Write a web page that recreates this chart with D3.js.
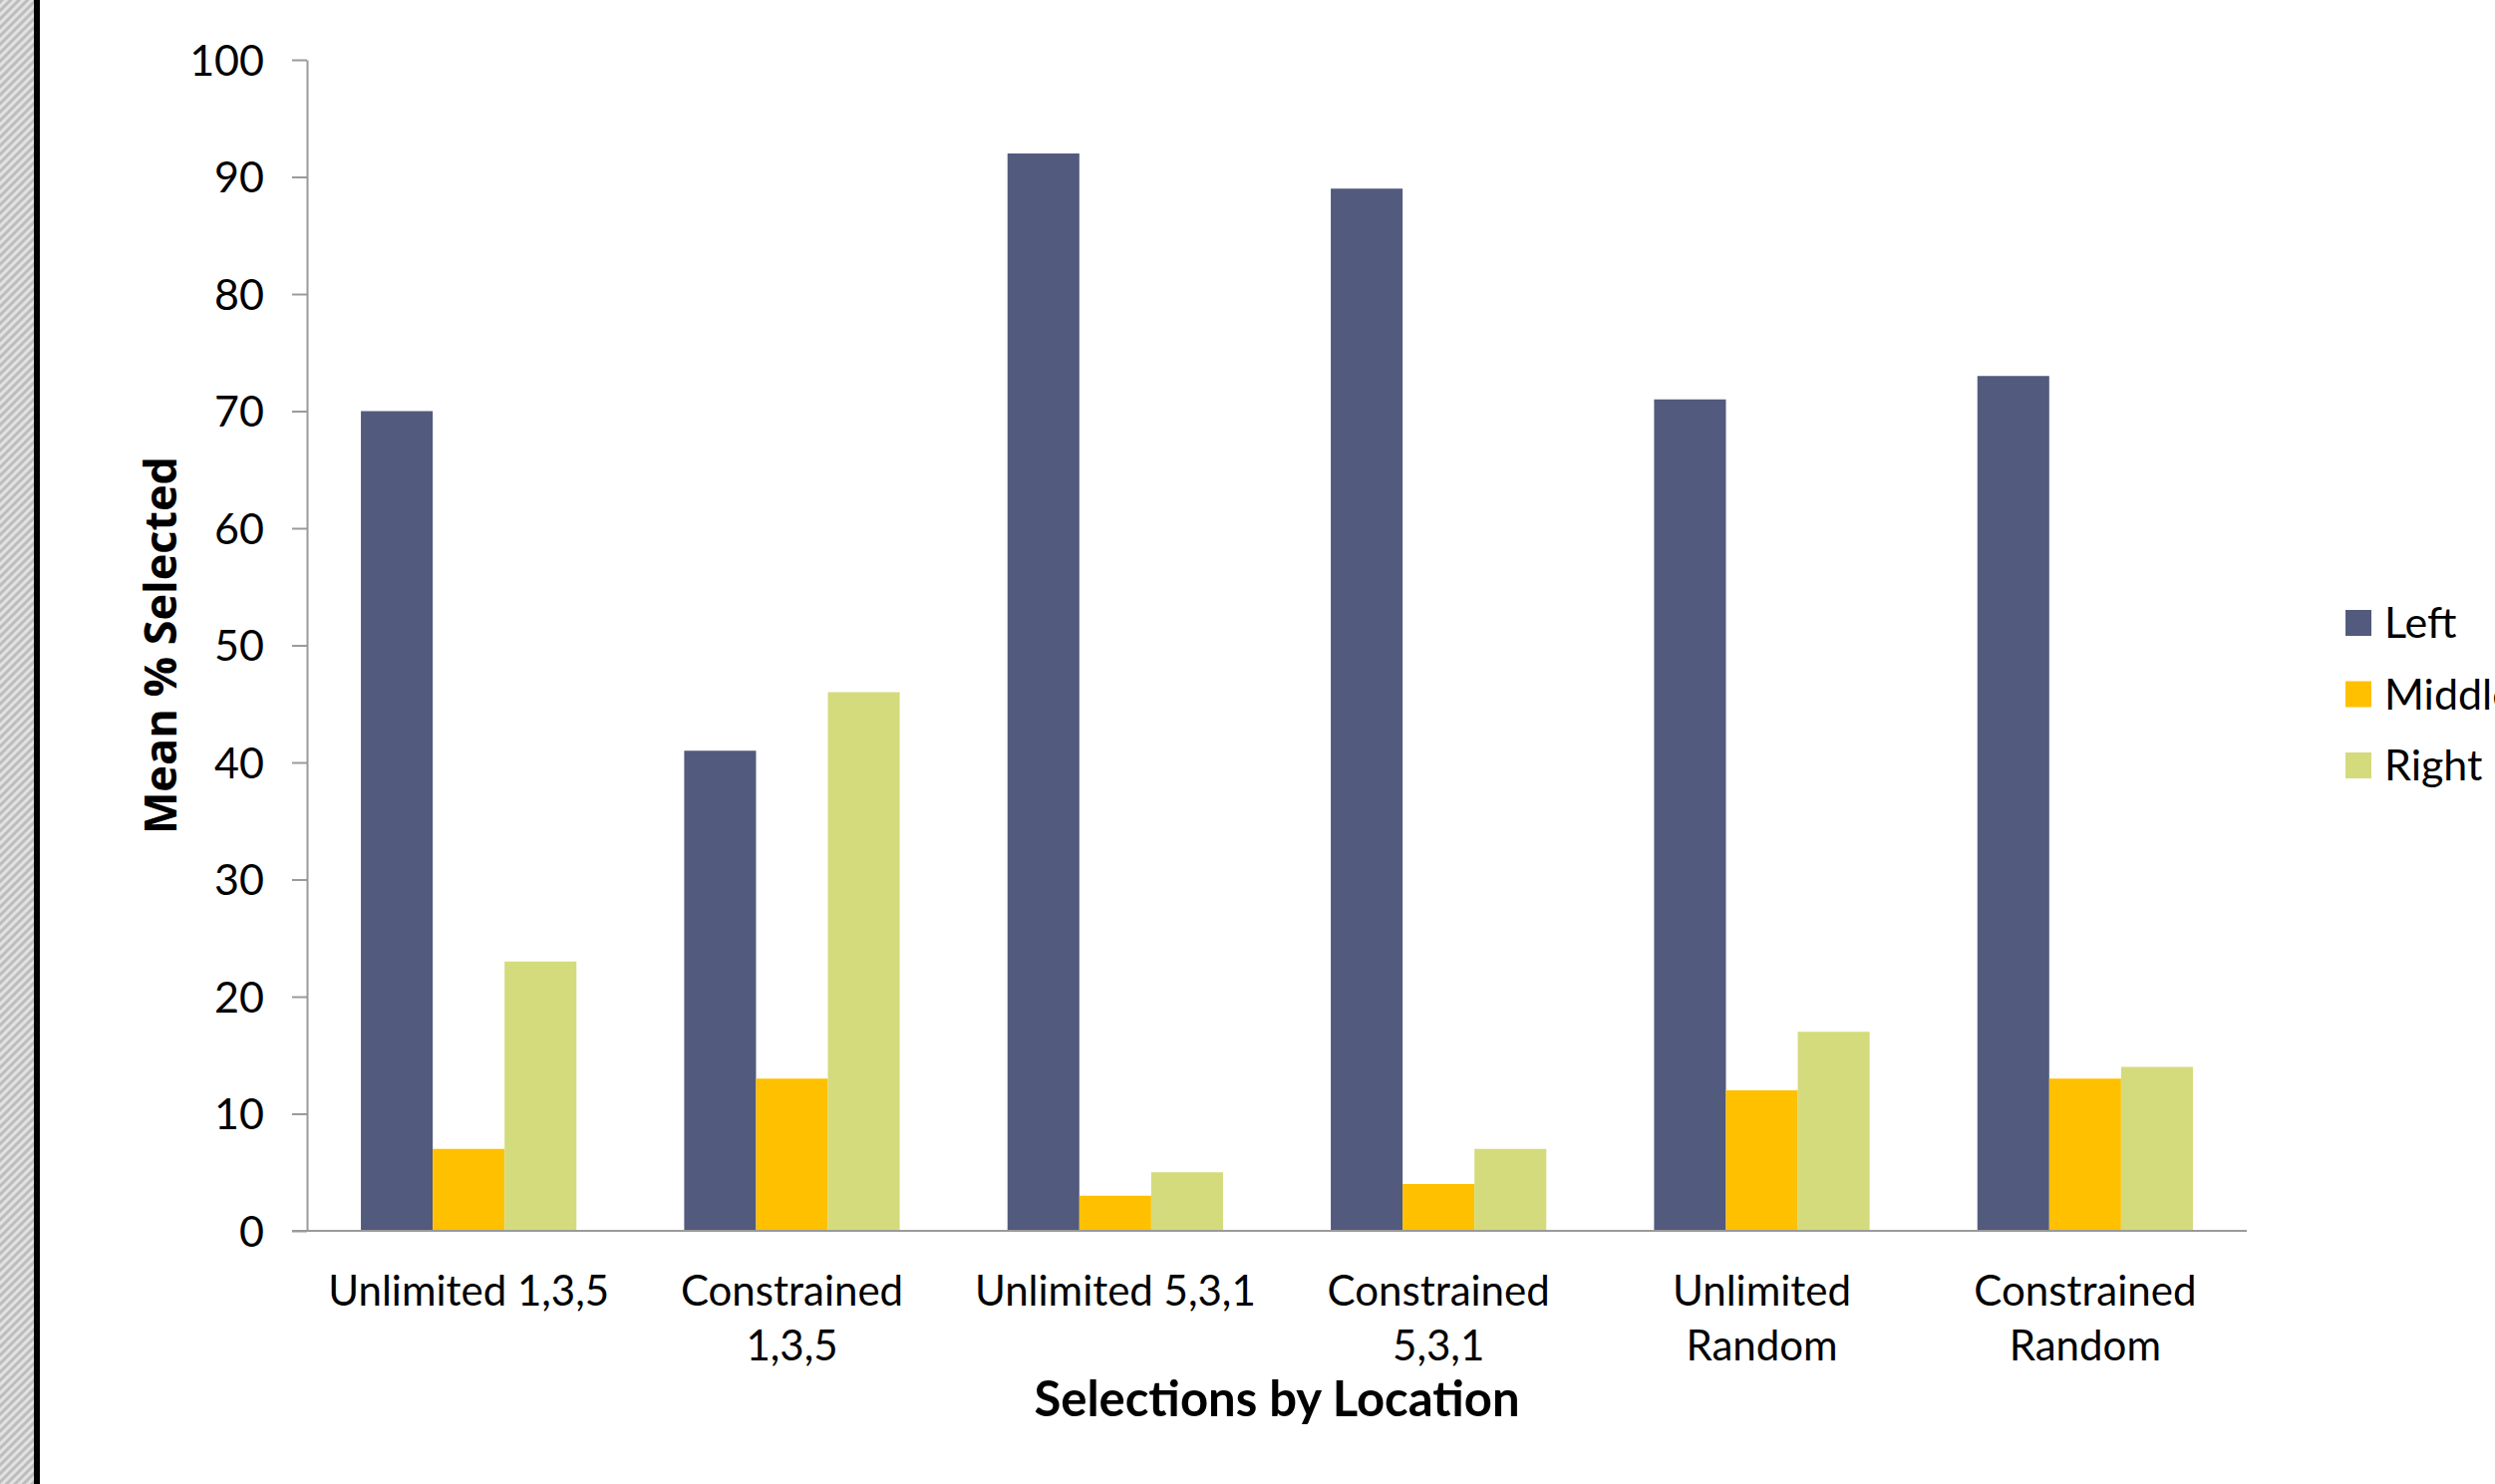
<!DOCTYPE html>
<html>
<head>
<meta charset="utf-8">
<script src="https://cdn.jsdelivr.net/npm/d3@7"></script>
<style>
  html, body { margin: 0; padding: 0; background: #fff; overflow: hidden; }
  svg { display: block; }
</style>
</head>
<body>
<svg id="chart" width="2503" height="1489"></svg>
<script>
// Mean percentage of selections at each location, per condition
const categories = [
  "Unlimited 1,3,5",
  "Constrained 1,3,5",
  "Unlimited 5,3,1",
  "Constrained 5,3,1",
  "Unlimited Random",
  "Constrained Random"
];
// How each category label wraps under the axis
const categoryLines = [
  ["Unlimited 1,3,5"],
  ["Constrained", "1,3,5"],
  ["Unlimited 5,3,1"],
  ["Constrained", "5,3,1"],
  ["Unlimited", "Random"],
  ["Constrained", "Random"]
];
const seriesNames = ["Left", "Middle", "Right"];
const leftValues   = [70, 41, 92, 89, 71, 73];
const middleValues = [7, 13, 3, 4, 12, 13];
const rightValues  = [23, 46, 5, 7, 17, 14];
const yTicks = [0, 10, 20, 30, 40, 50, 60, 70, 80, 90, 100];
const seriesColors = ["#525B7E", "#FFC000", "#D4DB7C"];

const seriesValues = [leftValues, middleValues, rightValues];
const rows = categories.map((c, i) => ({
  category: c,
  values: seriesNames.map((s, j) => ({ series: s, value: seriesValues[j][i] }))
}));

const W = 2503, H = 1489;
const margin = { top: 60, right: 249, bottom: 254, left: 308 };
const svg = d3.select("#chart");

// Slide frame on the left: hatched strip and a black rule
const defs = svg.append("defs");
const pat = defs.append("pattern")
  .attr("id", "hatch")
  .attr("patternUnits", "userSpaceOnUse")
  .attr("width", 6).attr("height", 6)
  .attr("patternTransform", "rotate(45)");
pat.append("rect").attr("width", 6).attr("height", 6).attr("fill", "#e2e2e2");
pat.append("rect").attr("width", 3).attr("height", 6).attr("fill", "#bdbdbd");
svg.append("rect").attr("x", 0).attr("y", 0).attr("width", 34).attr("height", H).attr("fill", "url(#hatch)");
svg.append("rect").attr("x", 34).attr("y", 0).attr("width", 6).attr("height", H).attr("fill", "#000");

const x0 = d3.scaleBand()
  .domain(categories)
  .range([margin.left, W - margin.right])
  .paddingInner(1 / 3)
  .paddingOuter(1 / 6);
const x1 = d3.scaleBand()
  .domain(seriesNames)
  .range([0, x0.bandwidth()]);
const y = d3.scaleLinear()
  .domain([0, 100])
  .range([H - margin.bottom, margin.top]);
const color = d3.scaleOrdinal().domain(seriesNames).range(seriesColors);

// Bars
const groups = svg.append("g")
  .selectAll("g")
  .data(rows)
  .join("g")
  .attr("transform", d => `translate(${x0(d.category)},0)`);
groups.selectAll("rect")
  .data(d => d.values)
  .join("rect")
  .attr("x", d => x1(d.series))
  .attr("width", x1.bandwidth())
  .attr("y", d => y(d.value))
  .attr("height", d => y(0) - y(d.value))
  .attr("fill", d => color(d.series));

const axisColor = "#9a9a9a";
const tickFont = "Lato, 'Open Sans', sans-serif";

// Y axis
const yAxis = svg.append("g")
  .attr("transform", `translate(${margin.left},0)`)
  .call(d3.axisLeft(y).tickValues(yTicks).tickSize(15).tickPadding(28).tickSizeOuter(0));
yAxis.select(".domain").attr("stroke", axisColor).attr("stroke-width", 2);
yAxis.selectAll(".tick line").attr("stroke", axisColor).attr("stroke-width", 2);
yAxis.selectAll(".tick text")
  .attr("fill", "#000")
  .attr("font-family", tickFont)
  .attr("font-size", 43)
  .attr("dy", "0.36em");

// X axis
const xAxis = svg.append("g")
  .attr("transform", `translate(0,${y(0)})`)
  .call(d3.axisBottom(x0).tickSize(0).tickSizeOuter(0));
xAxis.select(".domain")
  .attr("stroke", axisColor)
  .attr("stroke-width", 2)
  .attr("d", `M${margin.left - 15},0H${W - margin.right}`);
xAxis.selectAll(".tick text").each(function (d, i) {
  const t = d3.select(this)
    .text(null)
    .attr("y", 0)
    .attr("dy", null)
    .attr("fill", "#000")
    .attr("font-family", tickFont)
    .attr("font-size", 42);
  categoryLines[i].forEach((line, k) => {
    t.append("tspan").attr("x", 0).attr("y", 75 + k * 55).text(line);
  });
});

// Axis titles
svg.append("text")
  .attr("x", (margin.left + W - margin.right) / 2)
  .attr("y", 1421)
  .attr("text-anchor", "middle")
  .attr("font-family", tickFont)
  .attr("font-weight", "bold")
  .attr("font-size", 49)
  .text("Selections by Location");

svg.append("text")
  .attr("transform", `translate(177,${(margin.top + H - margin.bottom) / 2}) rotate(-90)`)
  .attr("text-anchor", "middle")
  .attr("font-family", "'Open Sans', sans-serif")
  .attr("font-weight", "bold")
  .attr("font-size", 45)
  .text("Mean % Selected");

// Legend
const legend = svg.append("g")
  .selectAll("g")
  .data(seriesNames)
  .join("g")
  .attr("transform", (d, i) => `translate(2353,${612 + i * 71.5})`);
legend.append("rect")
  .attr("width", 26).attr("height", 26)
  .attr("fill", d => color(d));
legend.append("text")
  .attr("x", 39)
  .attr("y", 28)
  .attr("font-family", tickFont)
  .attr("font-size", 43)
  .attr("fill", "#000")
  .text(d => d);
</script>
</body>
</html>
